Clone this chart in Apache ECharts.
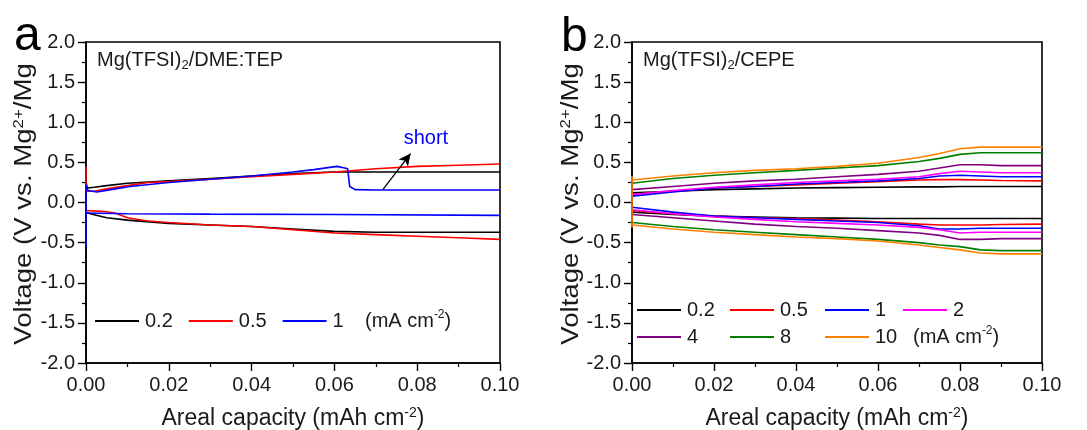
<!DOCTYPE html>
<html><head><meta charset="utf-8">
<script src="https://cdn.jsdelivr.net/npm/echarts@6/dist/echarts.min.js"></script>
<style>html,body{margin:0;padding:0;background:#fff}#c{width:1087px;height:430px}</style>
</head><body><div id="c"></div>
<script>
// ---------- DATA ----------
// Panel a: Mg(TFSI)2/DME:TEP  [capacity (mAh cm-2), voltage (V)]
const a02_up = [[0,0.26],[0.0003,0.18],[0.002,0.19],[0.005,0.21],[0.01,0.24],[0.02,0.27],[0.03,0.30],[0.04,0.33],[0.05,0.36],[0.06,0.38],[0.07,0.38],[0.08,0.38],[0.1,0.38]];
const a02_dn = [[0,-0.12],[0.001,-0.14],[0.005,-0.19],[0.01,-0.22],[0.02,-0.26],[0.03,-0.28],[0.04,-0.30],[0.05,-0.33],[0.06,-0.36],[0.07,-0.37],[0.08,-0.37],[0.1,-0.37]];
const a05_up = [[0,0.45],[0,0.14],[0.002,0.14],[0.005,0.17],[0.01,0.21],[0.015,0.25],[0.02,0.26],[0.03,0.29],[0.04,0.32],[0.05,0.35],[0.06,0.38],[0.07,0.42],[0.08,0.45],[0.09,0.465],[0.1,0.48]];
const a05_dn = [[0,-0.1],[0.004,-0.11],[0.007,-0.13],[0.01,-0.19],[0.015,-0.23],[0.02,-0.25],[0.03,-0.28],[0.04,-0.30],[0.05,-0.34],[0.06,-0.38],[0.07,-0.40],[0.08,-0.42],[0.09,-0.44],[0.1,-0.46]];
const a1_up = [[0,-0.55],[0,0.22],[0.0005,0.15],[0.0026,0.13],[0.006,0.16],[0.0106,0.2],[0.02,0.25],[0.03,0.29],[0.04,0.33],[0.05,0.38],[0.055,0.41],[0.0606,0.45],[0.0625,0.43],[0.0632,0.42],[0.0637,0.2],[0.065,0.16],[0.07,0.155],[0.1,0.155]];
const a1_dn = [[0,-0.13],[0.01,-0.14],[0.03,-0.145],[0.06,-0.15],[0.1,-0.16]];
// Panel b: Mg(TFSI)2/CEPE
const capB = [0,0.01,0.02,0.03,0.04,0.05,0.06,0.07,0.075,0.08,0.085,0.09,0.1];
const b02_up = [0.12,0.14,0.16,0.17,0.18,0.185,0.19,0.195,0.195,0.2,0.2,0.2,0.2];
const b02_dn = [-0.12,-0.15,-0.17,-0.18,-0.19,-0.195,-0.2,-0.2,-0.2,-0.2,-0.2,-0.2,-0.2];
const b05_up = [0.10,0.14,0.18,0.20,0.22,0.24,0.26,0.28,0.285,0.285,0.28,0.275,0.27];
const b05_dn = [-0.10,-0.14,-0.17,-0.19,-0.20,-0.22,-0.24,-0.27,-0.28,-0.28,-0.28,-0.275,-0.27];
const b1_up = [0.08,0.13,0.18,0.20,0.23,0.25,0.27,0.30,0.33,0.34,0.33,0.32,0.32];
const b1_dn = [-0.06,-0.12,-0.17,-0.19,-0.21,-0.23,-0.25,-0.29,-0.33,-0.33,-0.32,-0.32,-0.32];
const b2_up = [0.10,0.15,0.19,0.22,0.25,0.27,0.29,0.32,0.36,0.39,0.38,0.37,0.37];
const b2_dn = [-0.09,-0.14,-0.18,-0.21,-0.24,-0.26,-0.28,-0.31,-0.34,-0.38,-0.37,-0.37,-0.37];
const b4_up = [0.16,0.20,0.24,0.27,0.29,0.32,0.35,0.39,0.43,0.47,0.47,0.46,0.46];
const b4_dn = [-0.15,-0.19,-0.23,-0.27,-0.30,-0.32,-0.35,-0.38,-0.41,-0.46,-0.46,-0.45,-0.45];
const b8_up = [0.24,0.30,0.34,0.37,0.40,0.43,0.46,0.51,0.55,0.60,0.62,0.62,0.62];
const b8_dn = [-0.25,-0.30,-0.34,-0.37,-0.40,-0.43,-0.46,-0.50,-0.53,-0.55,-0.59,-0.60,-0.60];
const b10_up = [0.28,0.33,0.37,0.40,0.42,0.45,0.49,0.56,0.61,0.67,0.69,0.69,0.69];
const b10_dn = [-0.28,-0.33,-0.37,-0.40,-0.43,-0.45,-0.48,-0.53,-0.56,-0.59,-0.63,-0.64,-0.64];
const b10_spike = [[0,-0.31],[0,0.33]];
const currentsA = ['0.2','0.5','1'];
const currentsB = ['0.2','0.5','1','2','4','8','10'];
const yTicks = [-2.0,-1.5,-1.0,-0.5,0.0,0.5,1.0,1.5,2.0];
const xTicks = [0,0.02,0.04,0.06,0.08,0.1];
// annotation (data space)
const shortArrow = [[0.0717,0.16],[0.0784,0.61]];
const shortText = [0.0821,0.80];

// ---------- CHART ----------
const FONT = 'Liberation Sans, Arial, Helvetica, sans-serif';
const colors = {'0.2':'#000000','0.5':'#ff0000','1':'#0000ff','2':'#ff00ff','4':'#800080','8':'#008000','10':'#ff8000'};
const zip = (xs, ys) => xs.map((x,i)=>[x, ys[i]]);

function yAxis(idx){
  return {gridIndex: idx, type:'value', min: yTicks[0], max: yTicks[yTicks.length-1], interval: 0.5,
    axisLine:{show:true, onZero:false, lineStyle:{color:'#000', width:1.6}},
    axisTick:{show:true, inside:false, length:8, lineStyle:{color:'#000', width:1.4}},
    minorTick:{show:true, splitNumber:2, length:4, lineStyle:{color:'#000', width:1.2}},
    splitLine:{show:false},
    axisLabel:{fontFamily:FONT, fontSize:20, color:'#1a1a1a', margin:11, formatter:v=>v.toFixed(1)}
  };
}
function xAxis(idx){
  return {gridIndex: idx, type:'value', min: xTicks[0], max: xTicks[xTicks.length-1], interval: 0.02,
    axisLine:{show:true, onZero:false, lineStyle:{color:'#000', width:1.6}},
    axisTick:{show:true, inside:false, length:8, lineStyle:{color:'#000', width:1.4}},
    minorTick:{show:true, splitNumber:2, length:4, lineStyle:{color:'#000', width:1.2}},
    splitLine:{show:false},
    axisLabel:{fontFamily:FONT, fontSize:20, color:'#1a1a1a', margin:12, formatter:v=>v.toFixed(2)},
    name:'{n|Areal capacity (mAh cm}{sup|-2}{n|)}', nameLocation:'middle', nameGap:43,
    nameTextStyle:{fontFamily:FONT, fontSize:23, color:'#1a1a1a', lineHeight:26,
      rich:{n:{fontFamily:FONT, fontSize:23, color:'#1a1a1a', lineHeight:26},
            sup:{fontFamily:FONT, fontSize:14, verticalAlign:'top', lineHeight:14, color:'#1a1a1a'}}}
  };
}
function line(name, data, idx, extra){
  const key = name.split('-')[1];
  return Object.assign({type:'line', name:name, xAxisIndex:idx, yAxisIndex:idx, data:data, symbol:'none',
    lineStyle:{color:colors[key], width:1.6}, itemStyle:{color:colors[key]}, animation:false, z:2}, extra||{});
}

const series = [
  line('a-0.2', a02_up, 0), line('a-0.2', a02_dn, 0),
  line('a-0.5', a05_up, 0), line('a-0.5', a05_dn, 0),
  line('a-1', a1_up, 0, {
    markLine:{silent:true, symbol:['none','arrow'], symbolSize:[9,12], label:{show:false},
      lineStyle:{color:'#000', width:1.3, type:'solid'},
      data:[[{coord:shortArrow[0]},{coord:shortArrow[1]}]]},
    markPoint:{silent:true, symbol:'circle', symbolSize:1, itemStyle:{color:'rgba(0,0,0,0)'},
      label:{show:true, position:'inside', formatter:'short', color:'#0000ff', fontFamily:FONT, fontSize:20},
      data:[{coord:shortText}]}
  }),
  line('a-1', a1_dn, 0),
  line('b-0.2', zip(capB,b02_up), 1), line('b-0.2', zip(capB,b02_dn), 1),
  line('b-0.5', zip(capB,b05_up), 1), line('b-0.5', zip(capB,b05_dn), 1),
  line('b-1', zip(capB,b1_up), 1), line('b-1', zip(capB,b1_dn), 1),
  line('b-2', zip(capB,b2_up), 1), line('b-2', zip(capB,b2_dn), 1),
  line('b-4', zip(capB,b4_up), 1), line('b-4', zip(capB,b4_dn), 1),
  line('b-8', zip(capB,b8_up), 1), line('b-8', zip(capB,b8_dn), 1),
  line('b-10', zip(capB,b10_up), 1), line('b-10', zip(capB,b10_dn), 1), line('b-10', b10_spike, 1)
];

const fmt = n => n.split('-')[1];
const legendBase = {icon:'rect', itemWidth:44, itemHeight:2, selectedMode:false, formatter:fmt,
  textStyle:{fontFamily:FONT, fontSize:20, color:'#1a1a1a', lineHeight:20, padding:[0,0,0,1]}, padding:0};
const legends = [
  Object.assign({}, legendBase, {left:95, top:311, itemGap:16, data: currentsA.map(c=>'a-'+c)}),
  Object.assign({}, legendBase, {left:637, top:300, orient:'vertical', itemGap:7, data:['b-0.2','b-4']}),
  Object.assign({}, legendBase, {left:730, top:300, orient:'vertical', itemGap:7, data:['b-0.5','b-8']}),
  Object.assign({}, legendBase, {left:825, top:300, orient:'vertical', itemGap:7, data:['b-1','b-10']}),
  Object.assign({}, legendBase, {left:903, top:300, orient:'vertical', itemGap:7, data:['b-2']})
];

const richTxt = {
  n:{fontFamily:FONT, fontSize:20, fill:'#1a1a1a', lineHeight:24},
  sub:{fontFamily:FONT, fontSize:13, fill:'#1a1a1a', verticalAlign:'bottom', lineHeight:13}
};
const unitRich = {
  n:{fontFamily:FONT, fontSize:20, fill:'#1a1a1a', lineHeight:24},
  sup:{fontFamily:FONT, fontSize:12, fill:'#1a1a1a', verticalAlign:'top', lineHeight:12}
};
const yNameRich = {
  n:{fontFamily:FONT, fontSize:23, fill:'#1a1a1a', lineHeight:26},
  sup:{fontFamily:FONT, fontSize:14, fill:'#1a1a1a', verticalAlign:'top', lineHeight:14}
};
const yName = '{n|Voltage (V vs. Mg}{sup|2+}{n|/Mg}';
const graphic = [
  {type:'text', x:14, y:37, style:{text:'a', fontFamily:FONT, fontSize:48, fill:'#000', verticalAlign:'middle'}},
  {type:'text', x:561, y:38, style:{text:'b', fontFamily:FONT, fontSize:48, fill:'#000', verticalAlign:'middle'}},
  {type:'text', x:97, y:60, style:{text:'{n|Mg(TFSI)}{sub|2}{n|/DME:TEP}', rich:richTxt, verticalAlign:'middle'}},
  {type:'text', x:643, y:60, style:{text:'{n|Mg(TFSI)}{sub|2}{n|/CEPE}', rich:richTxt, verticalAlign:'middle'}},
  {type:'text', x:365, y:321, style:{text:'{n|(mA cm}{sup|-2}{n|)}', rich:unitRich, verticalAlign:'middle'}},
  {type:'text', x:913, y:337, style:{text:'{n|(mA cm}{sup|-2}{n|)}', rich:unitRich, verticalAlign:'middle'}},
  {type:'text', x:25, y:204, rotation:Math.PI/2, scaleX:1.2, style:{text:yName, rich:yNameRich, align:'center', verticalAlign:'middle'}},
  {type:'text', x:572, y:204, rotation:Math.PI/2, scaleX:1.2, style:{text:yName, rich:yNameRich, align:'center', verticalAlign:'middle'}}
];

const chart = echarts.init(document.getElementById('c'), null, {renderer:'canvas'});
chart.setOption({
  animation:false,
  backgroundColor:'#ffffff',
  grid:[
    {left:86, right:587, top:42, bottom:67, containLabel:false, outerBoundsMode:'none', show:true, borderColor:'#000', borderWidth:1.6, backgroundColor:'transparent'},
    {left:632, right:45, top:42, bottom:67, containLabel:false, outerBoundsMode:'none', show:true, borderColor:'#000', borderWidth:1.6, backgroundColor:'transparent'}
  ],
  xAxis:[xAxis(0), xAxis(1)],
  yAxis:[yAxis(0), yAxis(1)],
  legend: legends,
  series: series,
  graphic: graphic
});
</script></body></html>
